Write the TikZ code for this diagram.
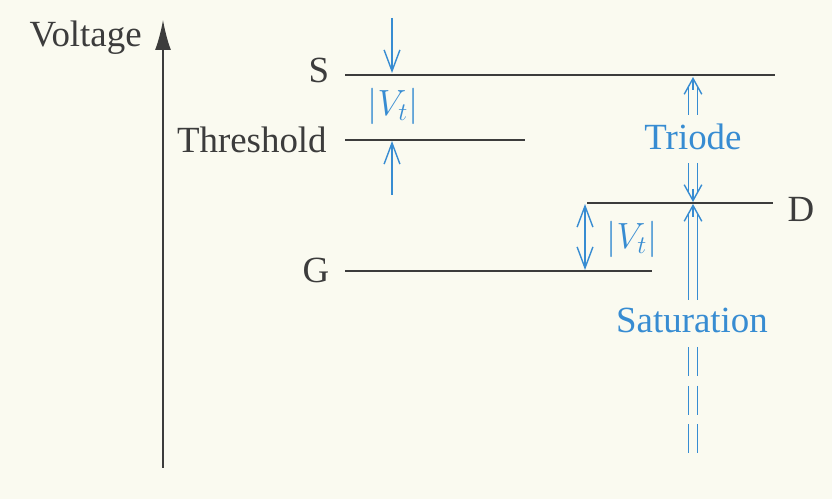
\documentclass[tikz,border=0pt]{standalone}
\usepackage{fontspec}
\setmainfont{Liberation Serif}
\usetikzlibrary{arrows.meta}
\definecolor{paper}{RGB}{250,250,240}
\definecolor{vblue}{RGB}{55,140,210}
\definecolor{ink}{RGB}{60,60,60}

\begin{document}
\begin{tikzpicture}[x=0.02cm,y=-0.02cm,
  lvl/.style={ink,line width=0.8pt},
  lab/.style={ink,font=\fontsize{21}{25}\selectfont,inner sep=0pt},
  blab/.style={vblue,font=\fontsize{21}{25}\selectfont,inner sep=0pt},
  barb/.style={vblue,line width=0.8pt,-{Straight Barb[length=12pt,width=9pt]}},
  dbl/.style={vblue,line width=0.75pt,double=paper,double distance=4.6pt},
  dhead/.style={vblue,line width=0.8pt,-{Straight Barb[length=9pt,width=10pt]}}]
\fill[paper] (0,0) rectangle (832,499);
% axis
\draw[ink,line width=0.9pt,-{Latex[length=17pt,width=9pt]}] (163,468) coordinate (ax0) -- (163,20) coordinate (ax1);
\node[lab,anchor=base east] (volt) at (142,47) {Voltage};
% levels
\draw[lvl] (345,75) coordinate (s0) -- (775,75) coordinate (s1);\node[lab,anchor=base] (s) at (319,83) {S};
\draw[lvl] (345,140) coordinate (t0) -- (525,140) coordinate (t1);\node[lab,anchor=base east] (thr) at (327,153) {Threshold};
\draw[lvl] (587,203) coordinate (d0) -- (773,203) coordinate (d1);\node[lab,anchor=base] (d) at (801,222) {D};
\draw[lvl] (345,271) coordinate (g0) -- (652,271) coordinate (g1);\node[lab,anchor=base] (g) at (316,283) {G};
% |Vt| between S and threshold
\draw[barb] (392,18) -- (392,73);\draw[barb] (392,195) -- (392,141);
\node[blab] (vt1) at (393,106) {$|V_t|$};
% |Vt| between D and G
\draw[vblue,line width=0.8pt,{Straight Barb[length=12pt,width=9pt]}-{Straight Barb[length=12pt,width=9pt]}] (585,204) -- (585,270);
\node[blab] (vt2) at (632,239) {$|V_t|$};
% triode / saturation
\draw[dbl] (693,115) -- (693,86);\draw[dhead] (693,90) -- (693,77);
\draw[dbl] (693,163) -- (693,193);\draw[dhead] (693,189) -- (693,202);
\node[blab,anchor=base] (tri) at (693,150) {Triode};
\draw[dbl] (693,300) -- (693,213);\draw[dhead] (693,217) -- (693,204);
\node[blab,anchor=base] (sat) at (692,333) {Saturation};
\draw[dbl,dash pattern=on 16.5pt off 5.5pt] (693,347) -- (693,455);
\end{tikzpicture}
\end{document}
